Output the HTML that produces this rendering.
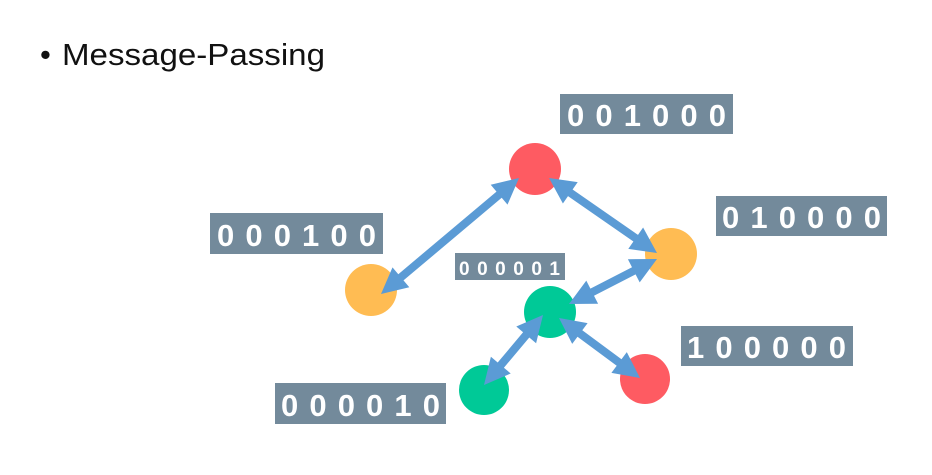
<!DOCTYPE html>
<html><head><meta charset="utf-8"><style>html,body{margin:0;padding:0;background:#fff}svg{display:block}</style></head>
<body>
<svg width="932" height="475" viewBox="0 0 932 475" xmlns="http://www.w3.org/2000/svg">
<text x="40" y="65" font-family="Liberation Sans, sans-serif" font-size="31" fill="#111">•</text>
<text x="62" y="65" font-family="Liberation Sans, sans-serif" font-size="31" fill="#111" textLength="263" lengthAdjust="spacingAndGlyphs">Message-Passing</text>

<g fill="#738a9b">
<rect x="560" y="94" width="173" height="40"/>
<rect x="716" y="196" width="171" height="40"/>
<rect x="210" y="213" width="173" height="41"/>
<rect x="455" y="253" width="110" height="27"/>
<rect x="681" y="326" width="172" height="40"/>
<rect x="275" y="383" width="171" height="41"/>
</g>
<g font-family="Liberation Sans, sans-serif" font-weight="bold" fill="#fff">
<text x="567" y="126" font-size="31" textLength="159" lengthAdjust="spacing">001000</text>
<text x="722" y="228" font-size="31" textLength="159" lengthAdjust="spacing">010000</text>
<text x="217" y="246" font-size="31" textLength="159" lengthAdjust="spacing">000100</text>
<text x="459" y="275" font-size="19" textLength="101" lengthAdjust="spacing">000001</text>
<text x="687" y="358" font-size="31" textLength="159" lengthAdjust="spacing">100000</text>
<text x="281" y="416" font-size="31" textLength="159" lengthAdjust="spacing">000010</text>
</g>

<circle cx="535" cy="169" r="26" fill="#fe5b62"/>
<circle cx="371" cy="290" r="26" fill="#ffbc53"/>
<circle cx="671" cy="254" r="26" fill="#ffbc53"/>
<circle cx="550" cy="312" r="26" fill="#00c997"/>
<circle cx="484" cy="390" r="25" fill="#00c997"/>
<circle cx="645" cy="379" r="25" fill="#fe5b62"/>

<g fill="#5b9bd5">
<polygon points="519,178 490.7,184.8 496.5,191.6 398.3,274.2 392.5,267.4 381,294 409.3,287.2 403.5,280.4 501.7,197.8 507.5,204.6"/>
<polygon points="549,178 562.9,203.5 568.0,196.1 633.4,241.5 628.3,248.9 657,253 643.1,227.5 638.0,234.9 572.6,189.5 577.7,182.1"/>
<polygon points="657,259 627.9,259.2 632.0,267.2 590.4,288.6 586.3,280.6 569,304 598.1,303.8 594.0,295.8 635.6,274.4 639.7,282.4"/>
<polygon points="543,315 516.3,326.5 523.1,332.3 497.7,362.5 490.9,356.7 484,385 510.7,373.5 503.9,367.7 529.3,337.5 536.1,343.3"/>
<polygon points="559,318 572.2,343.9 577.5,336.7 616.7,365.7 611.4,372.9 640,378 626.8,352.1 621.5,359.3 582.3,330.3 587.6,323.1"/>
</g>
</svg>
</body></html>
